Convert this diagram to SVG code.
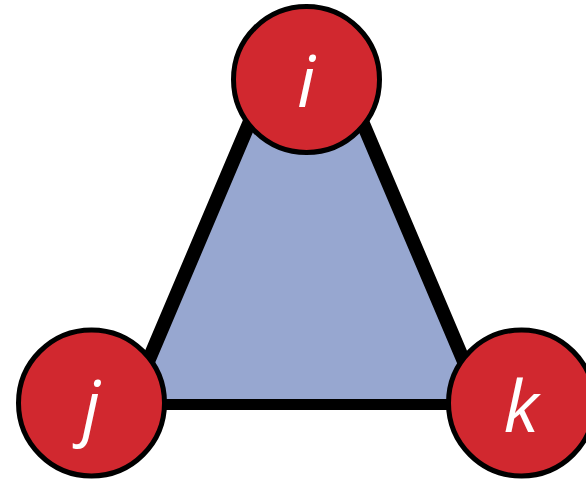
<svg xmlns="http://www.w3.org/2000/svg" width="586" height="482" viewBox="0 0 586 482">
<style>
.face{fill:#97a7d0;stroke:none}
.side{fill:none;stroke:#000;stroke-width:14;stroke-linejoin:miter}
.base{stroke:#000;stroke-width:11}
.node circle{fill:#d1282f;stroke:#000;stroke-width:5}
.node text{fill:#fff;font-family:"Open Sans","Noto Sans",sans-serif;font-style:italic;font-size:72px;text-anchor:middle}
</style>
<g id="connectors">
<polygon class="face" points="130,404 276,60 336,60 482,404"/>
<polyline class="side" points="130,404 276,60 336,60 482,404"/>
<line class="base" x1="130" y1="404.5" x2="482" y2="404.5"/>
</g>
<g id="node-i" class="node"><circle cx="306.5" cy="79.5" r="73"/><text x="306" y="107">i</text></g>
<g id="node-j" class="node"><circle cx="91.5" cy="403" r="73"/><text x="91" y="432">j</text></g>
<g id="node-k" class="node"><circle cx="521.5" cy="403" r="73"/><text x="521" y="432">k</text></g>
</svg>
